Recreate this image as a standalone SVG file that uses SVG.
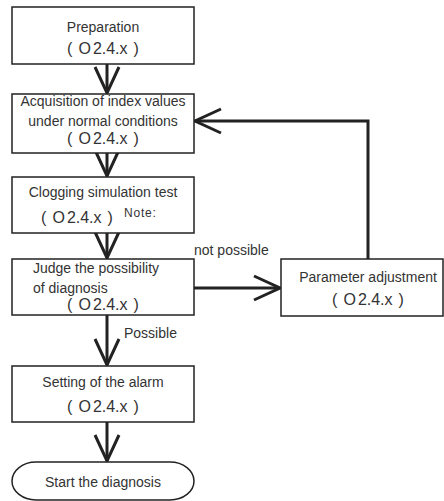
<svg xmlns="http://www.w3.org/2000/svg" width="444" height="501" viewBox="0 0 444 501">
<style>
.box{fill:#fff;stroke:#222;stroke-width:1.5}
.t{font-family:"Liberation Sans",Arial,sans-serif;font-size:14px;fill:#333}
.c{text-anchor:middle}
.v{font-size:16px}
.s{font-size:12px;letter-spacing:0.8px}
.con{fill:none;stroke:#222;stroke-width:3}
</style>
<defs>
<marker id="ah" markerUnits="userSpaceOnUse" markerWidth="32" markerHeight="32" viewBox="-30 -16 32 32" refX="0" refY="0" orient="auto" overflow="visible">
<path d="M-26,-12 L0,0 L-26,12" fill="none" stroke="#222" stroke-width="3"/>
</marker>
</defs>
<rect width="444" height="501" fill="#fff"/>
<g id="connectors">
<line class="con" x1="107" y1="64" x2="107" y2="93" marker-end="url(#ah)"/>
<line class="con" x1="107" y1="153" x2="107" y2="176" marker-end="url(#ah)"/>
<line class="con" x1="107" y1="233" x2="107" y2="258" marker-end="url(#ah)"/>
<line class="con" x1="107" y1="315" x2="107" y2="365" marker-end="url(#ah)"/>
<line class="con" x1="107" y1="422" x2="107" y2="461" marker-end="url(#ah)"/>
<line class="con" x1="194" y1="288" x2="280" y2="288" marker-end="url(#ah)"/>
<polyline class="con" points="368,259 368,121 195,121" marker-end="url(#ah)"/>
<text class="t" x="194" y="255">not possible</text>
<text class="t" x="124" y="338">Possible</text>
</g>
<g id="n1">
<rect class="box" x="12" y="7" width="182" height="57"/>
<text class="t c" x="103" y="32">Preparation</text>
<text class="t c v" x="103" y="54">(<tspan dx="6">O</tspan><tspan dx="2">2.4.x</tspan><tspan dx="6">)</tspan></text>
</g>
<g id="n2">
<rect class="box" x="12" y="94" width="182" height="59"/>
<text class="t c" x="103" y="106">Acquisition of index values</text>
<text class="t c" x="103" y="126">under normal conditions</text>
<text class="t c v" x="103" y="144">(<tspan dx="6">O</tspan><tspan dx="2">2.4.x</tspan><tspan dx="6">)</tspan></text>
</g>
<g id="n3">
<rect class="box" x="12" y="177" width="182" height="56"/>
<text class="t c" x="103" y="197">Clogging simulation test</text>
<text class="t c v" x="77" y="223">(<tspan dx="6">O</tspan><tspan dx="2">2.4.x</tspan><tspan dx="6">)</tspan></text>
<text class="t s" x="124" y="217">Note:</text>
</g>
<g id="n4">
<rect class="box" x="12" y="259" width="182" height="56"/>
<text class="t" x="33" y="273">Judge the possibility</text>
<text class="t" x="33" y="293">of diagnosis</text>
<text class="t c v" x="103" y="310">(<tspan dx="6">O</tspan><tspan dx="2">2.4.x</tspan><tspan dx="6">)</tspan></text>
</g>
<g id="n5">
<rect class="box" x="281" y="259" width="162" height="57"/>
<text class="t c" x="368" y="282">Parameter adjustment</text>
<text class="t c v" x="368" y="305">(<tspan dx="6">O</tspan><tspan dx="2">2.4.x</tspan><tspan dx="6">)</tspan></text>
</g>
<g id="n6">
<rect class="box" x="12" y="366" width="182" height="56"/>
<text class="t c" x="103" y="387">Setting of the alarm</text>
<text class="t c v" x="103" y="412">(<tspan dx="6">O</tspan><tspan dx="2">2.4.x</tspan><tspan dx="6">)</tspan></text>
</g>
<g id="n7">
<rect class="box" x="12" y="462" width="182" height="38" rx="24" ry="19"/>
<text class="t c" x="103" y="487">Start the diagnosis</text>
</g>
</svg>
